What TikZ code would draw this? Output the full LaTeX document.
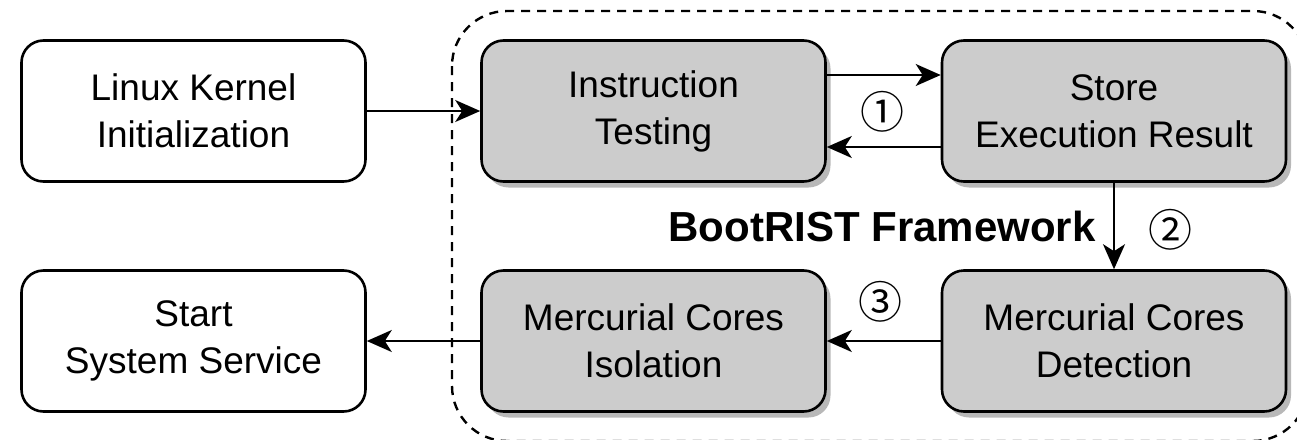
\documentclass[tikz,border=0pt]{standalone}
\usepackage{fontspec}
\setmainfont{Liberation Sans}
\newfontfamily\circfont{Noto Sans CJK SC}
\usetikzlibrary{arrows.meta,shadows}

\tikzset{
  box/.style={draw=black, line width=2.6pt, rounded corners=22pt,
    minimum width=344pt, minimum height=141pt, align=center,
    font=\fontsize{37}{47}\selectfont, inner sep=0pt},
  plainbox/.style={box, fill=white},
  stagebox/.style={box, fill=black!20,
    drop shadow={shadow xshift=5pt, shadow yshift=-6pt, fill=black!28, opacity=1}},
  flow/.style={line width=2pt, -{Stealth[length=25pt,width=22pt,inset=7pt]}},
  steplabel/.style={font=\circfont\fontsize{44}{44}\selectfont, inner sep=0pt},
  frametitle/.style={font=\bfseries\fontsize{42}{42}\selectfont, inner sep=0pt}
}

\begin{document}
\begin{tikzpicture}[x=1pt,y=-1pt]
  \useasboundingbox (0,0) rectangle (1297,439);

  % framework boundary (runs past the page edge on the right and bottom)
  \begin{scope}
    \clip (0,0) rectangle (1297,439);
    \draw[line width=2.4pt, dash pattern=on 9pt off 7pt, rounded corners=55pt]
      (452,11) rectangle (1308,441);
  \end{scope}

  % stages
  \node[plainbox] (lk)  at (193.5,111) {Linux Kernel\\Initialization};
  \node[stagebox] (it)  at (653.5,111) {Instruction\\Testing};
  \node[stagebox] (st)  at (1114,111)  {Store\\Execution Result};
  \node[stagebox] (det) at (1114,341)  {Mercurial Cores\\Detection};
  \node[stagebox] (iso) at (653.5,341) {Mercurial Cores\\Isolation};
  \node[plainbox] (ss)  at (193.5,341) {Start\\System Service};

  % flow
  \draw[flow] (lk.east) -- (it.west);
  \draw[flow] ([yshift=36pt]it.east) -- ([yshift=36pt]st.west);
  \draw[flow] ([yshift=-36pt]st.west) -- ([yshift=-36pt]it.east);
  \draw[flow] (st.south) -- (det.north);
  \draw[flow] (det.west) -- (iso.east);
  \draw[flow] (iso.west) -- (ss.east);

  % labels
  \node[steplabel] (n1) at (882,112) {①};
  \node[steplabel] (n2) at (1170,230) {②};
  \node[steplabel] (n3) at (880,302) {③};
  \node[frametitle] (ft) at (882,226) {BootRIST Framework};
\end{tikzpicture}
\end{document}
